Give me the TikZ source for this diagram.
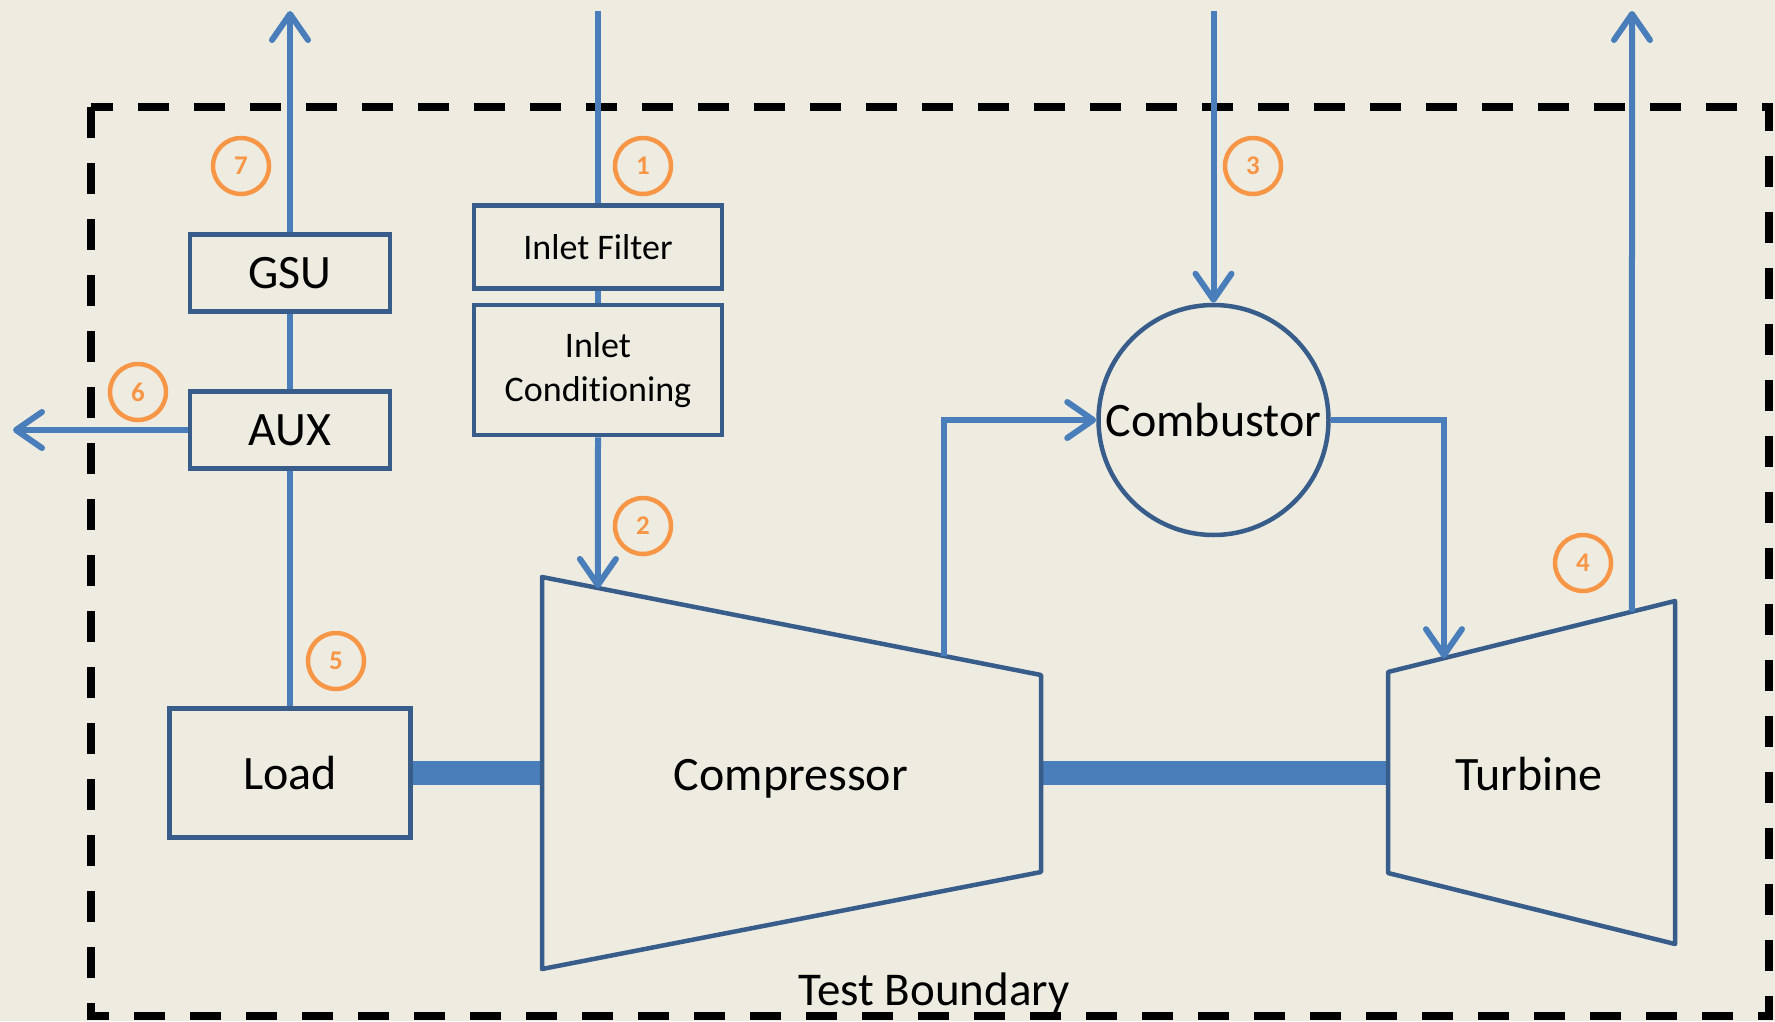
\documentclass[tikz,border=0pt]{standalone}
\usepackage{fontspec}
\setmainfont{Carlito}[Ligatures=NoCommon]
\usetikzlibrary{arrows.meta,calc}
\definecolor{bgtan}{HTML}{EEECE1}
\definecolor{edgeblue}{HTML}{385D8A}
\definecolor{flowblue}{HTML}{4A7EBB}
\definecolor{tagorange}{HTML}{F79646}
\tikzset{
  unitbox/.style={draw=edgeblue, line width=4.5pt, fill=bgtan, inner sep=0pt, font=\fontsize{48}{56}\selectfont},
  machine/.style={draw=edgeblue, line width=4.5pt, fill=bgtan, line join=round},
  flow/.style={draw=flowblue, line width=6pt},
  shaft/.style={draw=flowblue, line width=24pt},
  tag/.style={circle, draw=tagorange, line width=4.5pt, text=tagorange, minimum size=56pt, inner sep=0pt, font=\fontsize{27}{27}\selectfont\bfseries},
  boundary/.style={draw=black, line width=8pt, dash pattern=on 31pt off 25pt},
}
\begin{document}
\begin{tikzpicture}[x=1pt,y=1pt,yscale=-1,xscale=1, >={Straight Barb[length=26pt,width=36pt,round]}]
\fill[bgtan] (0,0) rectangle (1775,1021);
\useasboundingbox (0,0) rectangle (1775,1021);

% test boundary
\draw[boundary] (91,107) rectangle (1769,1016);
\node[anchor=base, font=\fontsize{47}{47}\selectfont] (bndlbl) at (934,1005) {Test Boundary};

% open ends of the flow lines
\coordinate (gsuOut) at (290,11);
\coordinate (auxOut) at (13,430);
\coordinate (airIn) at (598,11);
\coordinate (fuelIn) at (1213.5,11);
\coordinate (exhOut) at (1632,11);

% compressor and turbine corners
\coordinate (cTL) at (542,577);
\coordinate (cTR) at (1041,675);
\coordinate (cBR) at (1041,872);
\coordinate (cBL) at (542,969);
\coordinate (tTL) at (1388,672);
\coordinate (tTR) at (1675,601);
\coordinate (tBR) at (1675,944);
\coordinate (tBL) at (1388,873);

% ports on the slanted edges
\coordinate (compIn) at ($(cTL)!0.112!(cTR)$);
\coordinate (compOut) at ($(cTL)!0.806!(cTR)$);
\coordinate (turbIn) at ($(tTL)!0.195!(tTR)$);
\coordinate (turbOut) at ($(tTL)!0.850!(tTR)$);
\coordinate (compW) at (542,773);
\coordinate (compE) at (1041,773);
\coordinate (turbW) at (1388,773);

% boxes
\node[unitbox, minimum width=200pt, minimum height=77pt] (gsu) at (290,273) {GSU};
\node[unitbox, minimum width=200pt, minimum height=77pt] (aux) at (290,430) {\raisebox{-5pt}{AUX}};
\node[unitbox, minimum width=241pt, minimum height=129pt] (load) at (290,773) {Load};
\node[unitbox, minimum width=248pt, minimum height=83pt, font=\fontsize{36}{44}\selectfont] (filter) at (598,247) {Inlet Filter};
\node[unitbox, minimum width=248pt, minimum height=130pt, align=center, font=\fontsize{36}{44}\selectfont] (cond) at (598,370) {Inlet\\Conditioning};
\node[unitbox, circle, minimum size=230pt] (comb) at (1213.5,420) {Combustor};

% shafts
\draw[shaft] (load.east) -- (compW);
\draw[shaft] (compE) -- (turbW);

% compressor and turbine
\draw[machine] (cTL) -- (cTR) -- (cBR) -- (cBL) -- cycle;
\draw[machine] (tTL) -- (tTR) -- (tBR) -- (tBL) -- cycle;
\node[font=\fontsize{48}{56}\selectfont] (comp) at (791,779) {Compressor};
\node[font=\fontsize{48}{56}\selectfont] (turb) at (1529,774) {Turbine};

% flow lines
\draw[flow,->] (gsu.north) -- (gsuOut);
\draw[flow] (gsu.south) -- (aux.north);
\draw[flow] (aux.south) -- (load.north);
\draw[flow,->] (aux.west) -- (auxOut);
\draw[flow] (airIn) -- (filter.north);
\draw[flow] (filter.south) -- (cond.north);
\draw[flow,->] (cond.south) -- (compIn);
\draw[flow,->] (fuelIn) -- (comb.north);
\draw[flow,->] (compOut) |- (comb.west);
\draw[flow,->] (comb.east) -| (turbIn);
\draw[flow,->] (turbOut) -- (exhOut);

% station numbers
\node[tag] (st1) at (643,166) {1};
\node[tag] (st2) at (643,526) {2};
\node[tag] (st3) at (1253,166) {3};
\node[tag] (st4) at (1583,563) {4};
\node[tag] (st5) at (336,661) {5};
\node[tag] (st6) at (138,392) {6};
\node[tag] (st7) at (241,166) {7};
\end{tikzpicture}
\end{document}
